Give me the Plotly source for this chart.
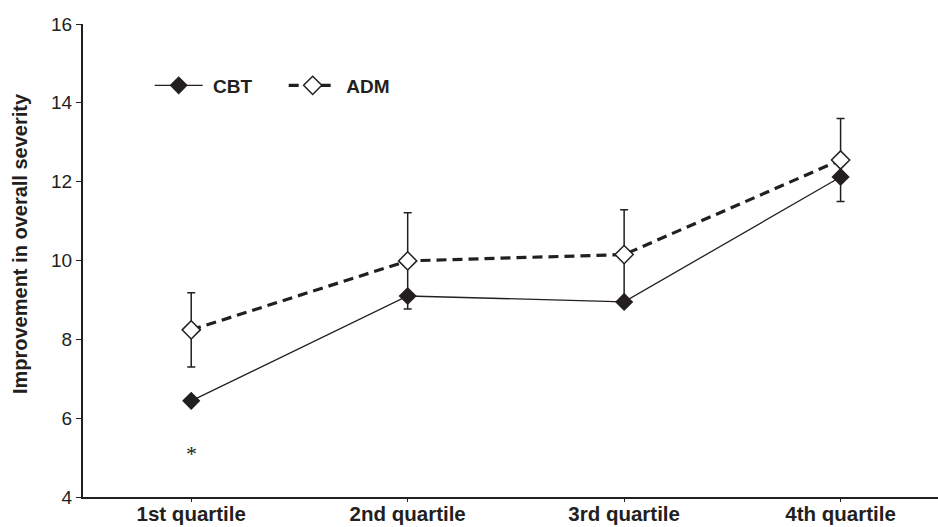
import plotly.graph_objects as go

categories = ["1st quartile", "2nd quartile", "3rd quartile", "4th quartile"]
cbt_values = [6.44, 9.10, 8.95, 12.12]
adm_values = [8.24, 9.99, 10.15, 12.55]
adm_errors = [0.94, 1.22, 1.14, 1.05]
y_ticks = [4, 6, 8, 10, 12, 14, 16]
y_title = "Improvement in overall severity"
star_label = "*"
star_y = 5.14

ink = "#231f20"
fig = go.Figure()

fig.add_trace(go.Scatter(
    x=categories, y=adm_values, name=" ADM", mode="lines+markers",
    line=dict(color=ink, width=3.2, dash="10px,6px"),
    marker=dict(symbol="diamond", size=14, color="white", line=dict(color=ink, width=1.5)),
    error_y=dict(type="data", array=adm_errors, visible=True, color=ink, thickness=1.5, width=4),
    legendrank=2,
))
fig.add_trace(go.Scatter(
    x=categories, y=cbt_values, name=" CBT", mode="lines+markers",
    line=dict(color=ink, width=1.3),
    marker=dict(symbol="diamond", size=14, color=ink, line=dict(color=ink, width=0)),
    legendrank=1,
))

fig.add_annotation(x=categories[0], y=star_y, text=star_label, showarrow=False, yshift=-1,
                   font=dict(family="Liberation Serif", size=22, color=ink))
fig.add_annotation(xref="paper", yref="paper", x=-0.073, y=0.536, text=y_title,
                   textangle=-90, showarrow=False, xanchor="center", yanchor="middle",
                   font=dict(size=20, weight="bold", color=ink))

fig.update_layout(
    width=938, height=527,
    margin=dict(l=83, r=0, t=24, b=30, autoexpand=False),
    paper_bgcolor="white", plot_bgcolor="white",
    font=dict(family="Liberation Sans, Arial", color=ink),
    showlegend=True,
    legend=dict(orientation="h", x=0.078, y=0.87, xanchor="left", yanchor="middle",
                font=dict(size=19, family="Liberation Sans, Arial", weight="bold"),
                bgcolor="rgba(0,0,0,0)", itemwidth=48, entrywidth=71, traceorder="normal"),
    xaxis=dict(type="category", range=[-0.5, 3.45], showline=True, linecolor=ink, linewidth=2,
               ticks="outside", ticklen=3, tickcolor=ink, showgrid=False, zeroline=False,
               automargin=False, ticklabelstandoff=-6,
               tickfont=dict(size=20.5, weight="bold", color=ink)),
    yaxis=dict(range=[4, 16], tickvals=y_ticks, showline=True, linecolor=ink, linewidth=2,
               ticks="outside", ticklen=5, tickcolor=ink, showgrid=False, zeroline=False,
               automargin=False, tickfont=dict(size=19, color=ink)),
)

fig.write_html("out.html", config={"displayModeBar": False},
               post_script="document.body.style.margin='0';")
